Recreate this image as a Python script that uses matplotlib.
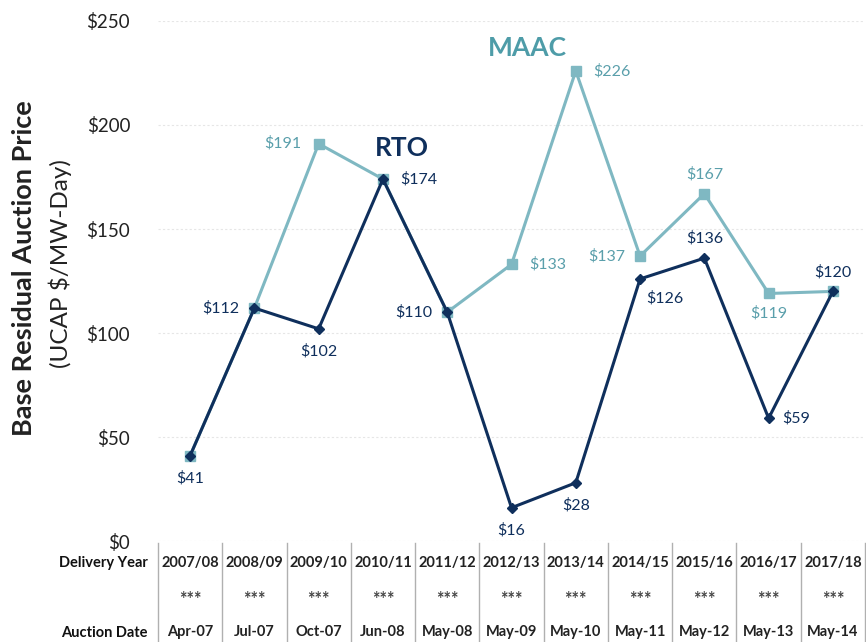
import numpy as np
import matplotlib.pyplot as plt
from matplotlib.transforms import blended_transform_factory

plt.rcParams['font.family'] = ['Lato', 'DejaVu Sans']

# Data
delivery_years = ['2007/08', '2008/09', '2009/10', '2010/11', '2011/12', '2012/13',
                  '2013/14', '2014/15', '2015/16', '2016/17', '2017/18']
auction_dates = ['Apr-07', 'Jul-07', 'Oct-07', 'Jun-08', 'May-08', 'May-09',
                 'May-10', 'May-11', 'May-12', 'May-13', 'May-14']
rto = [41, 112, 102, 174, 110, 16, 28, 126, 136, 59, 120]
maac = [41, 112, 191, 174, 110, 133, 226, 137, 167, 119, 120]

# label placement: offset in points, or None to skip
rto_offsets = [(0, -16), (-24, 0), (0, -16), (26, 0), (-24, 0), (0, -16),
               (0, -16), (18, -14), (0, 14), (20, 0), (0, 14)]
maac_offsets = [None, None, (-26, 0), None, None, (26, 0), (26, 0), (-24, 0),
                (0, 14), (0, -14), None]

navy = '#0f2f5c'
teal = '#7fb8c2'
teal_txt = '#5a9fab'

fig = plt.figure(figsize=(8.66, 6.42), dpi=100)
ax = fig.add_axes([0.1824, 0.1573, 0.8165, 0.8100])
x = np.arange(len(delivery_years))

ax.plot(x, maac, color=teal, lw=2.2, marker='s', ms=7, zorder=2)
ax.plot(x, rto, color=navy, lw=2.2, marker='D', ms=5.5, zorder=3)

for xi, v, off in zip(x, rto, rto_offsets):
    ax.annotate(f'${v}', (xi, v), xytext=off, textcoords='offset points',
                ha='center', va='center', color=navy, fontsize=11.5)
for xi, v, off in zip(x, maac, maac_offsets):
    if off is None:
        continue
    ax.annotate(f'${v}', (xi, v), xytext=off, textcoords='offset points',
                ha='center', va='center', color=teal_txt, fontsize=11.5)

ax.text(3.3, 189, 'RTO', color=navy, fontsize=19, fontweight='bold', ha='center', va='center')
ax.text(5.25, 237, 'MAAC', color='#4e9ca8', fontsize=19, fontweight='bold', ha='center', va='center')

ax.set_xlim(-0.5, 10.5)
ax.set_ylim(0, 250)
ax.set_yticks([0, 50, 100, 150, 200, 250])
ax.set_yticklabels([f'${t}' for t in [0, 50, 100, 150, 200, 250]], fontsize=13.5, color='#222222')
ax.set_xticks([])
ax.tick_params(axis='y', length=0, pad=20)
ax.grid(axis='y', color='#e6e6e6', lw=0.8, ls=(0, (2, 2)))
ax.set_axisbelow(True)
for s in ax.spines.values():
    s.set_visible(False)

fig.text(0.028, 0.583, 'Base Residual Auction Price', rotation=90, fontsize=19.5,
         fontweight='bold', color='#222222', ha='center', va='center')
fig.text(0.069, 0.589, '(UCAP $/MW-Day)', rotation=90, fontsize=17.5,
         color='#222222', ha='center', va='center')

# table under the chart
tr = blended_transform_factory(ax.transData, ax.transAxes)
px = 1 / 520.0
for b in np.arange(-0.5, 11, 1):
    ax.plot([b, b], [-2 * px, -101 * px], color='#b0b0b0', lw=1, transform=tr, clip_on=False)
for xi, dy, ad in zip(x, delivery_years, auction_dates):
    ax.text(xi, -22 * px, dy, transform=tr, ha='center', va='center', fontsize=10.5,
            fontweight='bold', color='#222222')
    ax.text(xi, -58 * px, '***', transform=tr, ha='center', va='center', fontsize=13,
            fontweight='bold', color='#444444')
    ax.text(xi, -91 * px, ad, transform=tr, ha='center', va='center', fontsize=10.5,
            fontweight='bold', color='#222222')
fig.text(148 / 866, 1 - 563 / 642, 'Delivery Year', ha='right', va='center', fontsize=10.5,
         fontweight='bold', color='#111111')
fig.text(148 / 866, 1 - 633 / 642, 'Auction Date', ha='right', va='center', fontsize=10.5,
         fontweight='bold', color='#111111')

fig.savefig('out.png', dpi=100)
